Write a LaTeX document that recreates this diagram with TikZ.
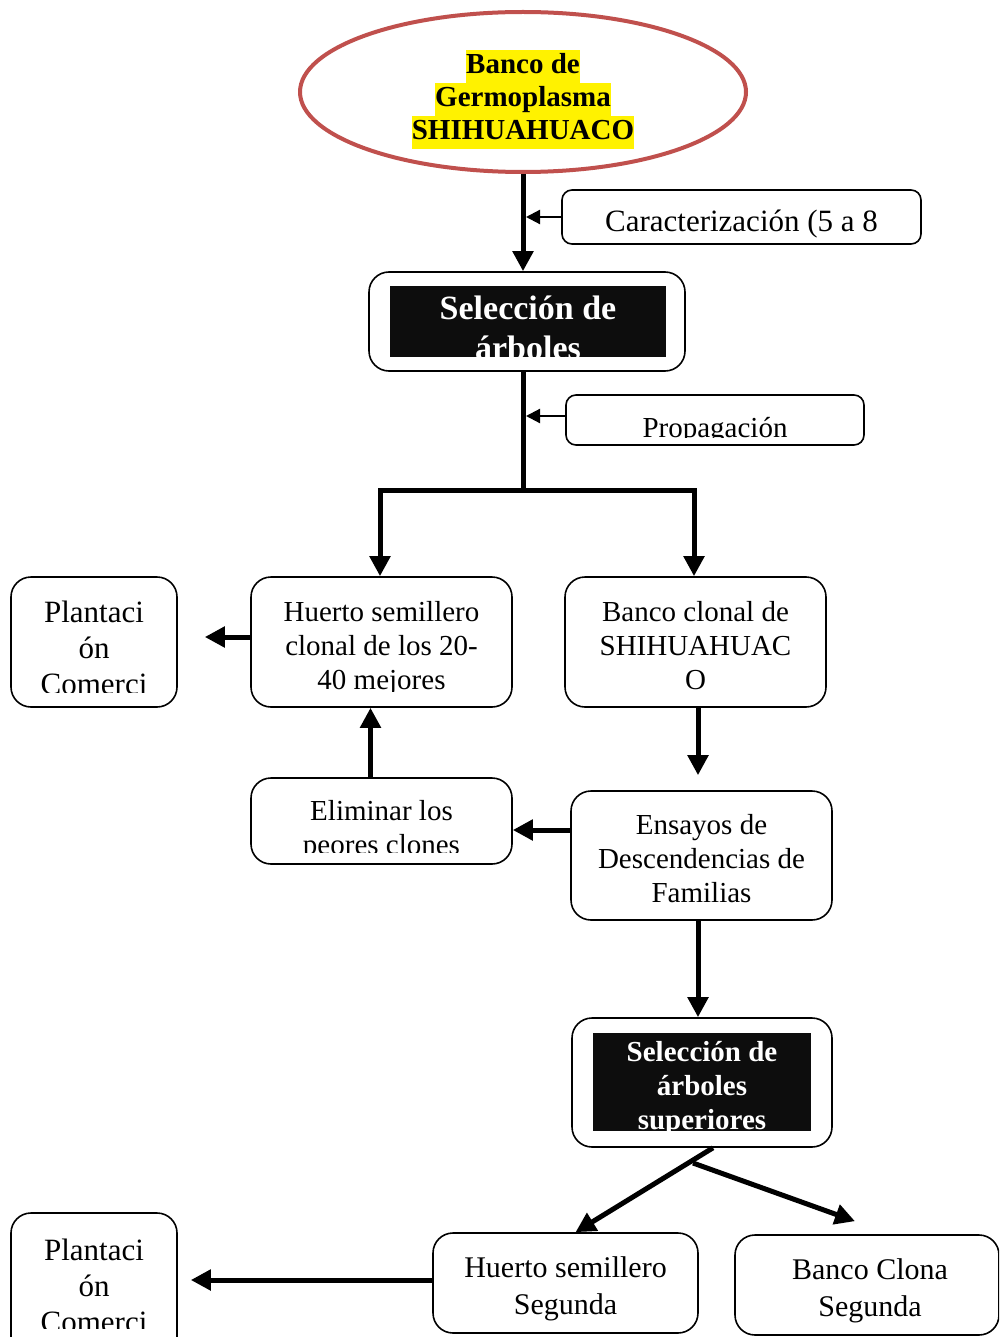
\documentclass[tikz,border=0pt]{standalone}
\usepackage{fontspec}
\setmainfont{Liberation Serif}
\usetikzlibrary{shapes.geometric,arrows.meta}
\definecolor{ovalred}{RGB}{192,80,77}
\definecolor{boxblack}{RGB}{13,13,13}
\setlength{\fboxsep}{0pt}
\tikzset{
  box/.style={draw, line width=1.6pt, rounded corners=20pt, inner sep=0pt},
  smallbox/.style={box, rounded corners=10pt},
  txt/.style={align=center, inner sep=0pt, font=\fontsize{29}{34}\selectfont},
  bigtxt/.style={txt, font=\fontsize{31}{36}\selectfont},
  darktxt/.style={txt, text=white, font=\bfseries\fontsize{29}{34}\selectfont},
  flow/.style={line width=5pt, -{Triangle[length=20pt,width=20pt]}},
  feed/.style={line width=2.2pt, -{Triangle[length=14pt,width=14pt]}},
}
\begin{document}
\begin{tikzpicture}[x=1pt,y=-1pt]
	\clip (0,0) rectangle (999,1337);
	\fill[white] (0,0) rectangle (999,1337);
	% top of the chart
	\node (bank) [ellipse, draw=ovalred, line width=4pt, minimum width=446pt, minimum height=160pt, inner sep=0pt] at (523,92) {};
	\node (banktxt) [txt, font=\bfseries\fontsize{29}{33}\selectfont] at (523,100)
		{\colorbox{yellow}{\strut Banco de}\\\colorbox{yellow}{\strut Germoplasma}\\\colorbox{yellow}{\strut SHIHUAHUACO}};
	\node (carac) [smallbox, minimum width=359pt, minimum height=54pt] at (741.5,217) {};
	\node (caractxt) [txt, font=\fontsize{31}{36}\selectfont] at (741.5,224) {Caracterización (5 a 8};
	\node (sel1) [box, minimum width=316pt, minimum height=99pt] at (527,321.5) {};
	\node (sel1in) [fill=boxblack, minimum width=276pt, minimum height=71pt, inner sep=0pt] at (528,321.5) {};
	\begin{scope}
		\clip (sel1in.south west) rectangle (sel1in.north east);
		\node (sel1txt) [darktxt, font=\bfseries\fontsize{34}{40}\selectfont] at (528,328) {Selección de\\árboles};
	\end{scope}
	\node (prop) [smallbox, minimum width=298pt, minimum height=50pt] at (715,420) {};
	\begin{scope}
		\clip (566,395) rectangle (864,437);
		\node (proptxt) [txt, anchor=base] at (715,437) {Propagación};
	\end{scope}
	% middle row
	\node (huerto1) [box, minimum width=261pt, minimum height=130pt] at (381.5,642) {};
	\begin{scope}
		\clip (251,577) rectangle (512,691);
		\node (huerto1txt) [txt] at (381.5,649) {Huerto semillero\\clonal de los 20-\\40 mejores};
	\end{scope}
	\node (plant1) [box, minimum width=166pt, minimum height=130pt] at (94,642) {};
	\begin{scope}
		\clip (11,577) rectangle (177,692);
		\node (plant1txt) [bigtxt] at (94,648) {Plantaci\\ón\\Comerci};
	\end{scope}
	\node (banco1) [box, minimum width=261pt, minimum height=130pt] at (695.5,642) {};
	\node (banco1txt) [txt] at (695.5,646) {Banco clonal de\\SHIHUAHUAC\\O};
	\node (elim) [box, minimum width=261pt, minimum height=86pt] at (381.5,821) {};
	\begin{scope}
		\clip (251,778) rectangle (512,852);
		\node (elimtxt) [txt] at (381.5,831) {Eliminar los\\peores clones};
	\end{scope}
	\node (ensayos) [box, minimum width=261pt, minimum height=129pt] at (701.5,855.5) {};
	\node (ensayostxt) [txt] at (701.5,859) {Ensayos de\\Descendencias de\\Familias};
	\node (sel2) [box, minimum width=260pt, minimum height=129pt] at (702,1082.5) {};
	\node (sel2in) [fill=boxblack, minimum width=218pt, minimum height=98pt, inner sep=0pt] at (702,1082) {};
	\begin{scope}
		\clip (sel2in.south west) rectangle (sel2in.north east);
		\node (sel2txt) [darktxt] at (702,1088) {Selección de\\árboles\\superiores};
	\end{scope}
	% bottom row
	\node (huerto2) [box, minimum width=265pt, minimum height=100pt] at (565.5,1283) {};
	\node (huerto2txt) [txt, font=\fontsize{30}{37}\selectfont] at (565.5,1289) {Huerto semillero\\Segunda};
	\node (banco2) [box, minimum width=264pt, minimum height=100pt] at (867,1285) {};
	\node (banco2txt) [txt, font=\fontsize{30}{37}\selectfont] at (870,1291) {Banco Clona\\Segunda};
	\node (plant2) [box, minimum width=166pt, minimum height=154pt] at (94,1290) {};
	\begin{scope}
		\clip (11,1213) rectangle (177,1328);
		\node (plant2txt) [bigtxt] at (94,1286) {Plantaci\\ón\\Comerci};
	\end{scope}
	% connectors
	\coordinate (fork) at (523,490);
	\coordinate (split) at (693,1163);
	\draw[flow] (bank.south) -- (bank.south |- sel1.north);
	\draw[feed] (carac.west) -- ([xshift=3pt]carac.west -| bank.south);
	\draw[line width=5pt] (fork |- sel1.south) -- (fork);
	\draw[flow] (fork) -| ([xshift=-1.5pt]huerto1.north);
	\draw[flow] (fork) -| ([xshift=-1.5pt]banco1.north);
	\draw[feed] ([yshift=4pt]prop.west) -- ([yshift=4pt,xshift=3pt]prop.west -| fork);
	\draw[flow, shorten >=27pt] ([yshift=5pt]huerto1.west) -- ([yshift=5pt]plant1.east);
	\draw[flow, shorten >=15pt] ([xshift=2.5pt]banco1.south) -- ([xshift=2.5pt]banco1.south |- ensayos.north);
	\draw[flow] ([yshift=-9pt]elim.east -| ensayos.west) -- ([yshift=-9pt]elim.east);
	\draw[flow] ([xshift=-11pt]elim.north) -- ([xshift=-11pt]huerto1.south);
	\draw[flow] ([xshift=-3.5pt]ensayos.south) -- ([xshift=-3.5pt]ensayos.south |- sel2.north);
	\draw[flow] ([xshift=11pt]sel2.south) -- ([xshift=10pt]huerto2.north);
	\draw[flow] (split) -- ([xshift=-12pt,yshift=13pt]banco2.north);
	\draw[flow, shorten >=13pt] ([yshift=3pt]huerto2.west) -- ([yshift=3pt]huerto2.west -| plant2.east);
\end{tikzpicture}
\end{document}
